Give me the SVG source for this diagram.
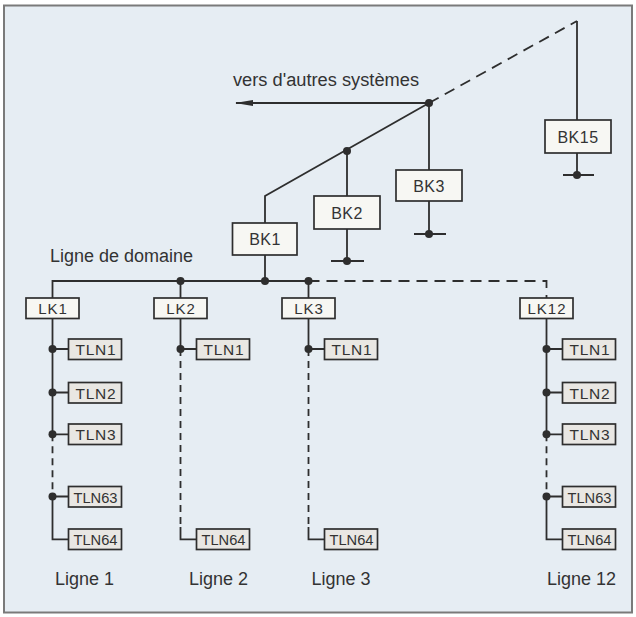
<svg xmlns="http://www.w3.org/2000/svg" width="636" height="617" viewBox="0 0 636 617">
  <style>
    .ln { stroke: #2e2e2e; stroke-width: 1.8; fill: none; }
    .dash { stroke-dasharray: 11 7; }
    .vdash { stroke-dasharray: 7 5; }
    .dot { fill: #2e2e2e; }
    .bk { fill: #f7f7f3; stroke: #2e2e2e; stroke-width: 1.7; }
    .tln { fill: #e9e7e3; stroke: #2e2e2e; stroke-width: 1.7; }
    .lbl { font-family: "Liberation Sans", Arial, sans-serif; fill: #333; text-anchor: middle; }
    .bkt { font-size: 16px; letter-spacing: 0.5px; }
    .lkt { font-size: 15px; letter-spacing: 1px; }
    .tlt { font-size: 15.5px; }
    .cap { font-family: "Liberation Sans", Arial, sans-serif; fill: #333; font-size: 18px; }
  </style>
  <defs>
    <marker id="arr" markerWidth="18" markerHeight="8" refX="17" refY="4" orient="auto" markerUnits="userSpaceOnUse">
      <path d="M0,1 L18,4 L0,7 Z" fill="#2e2e2e"/>
    </marker>
  </defs>
  <rect x="0" y="0" width="636" height="617" fill="#ffffff"/>
  <rect x="4" y="5.5" width="628" height="607" fill="#e6edf3" stroke="#7a7a7a" stroke-width="2"/>

  <g id="connectors">
    <path class="ln" d="M265,223 V196 L429,103"/>
    <path class="ln dash" d="M429,103 L577,21"/>
    <path class="ln" d="M577,21 V120"/>
    <path class="ln" d="M429,103 H236" marker-end="url(#arr)"/>
    <path class="ln" d="M347,151 V196 M347,229 V261 M331,261 H364"/>
    <path class="ln" d="M429,103 V170 M429,201 V234 M414,234 H446"/>
    <path class="ln" d="M577,153 V175 M563,175 H594"/>
    <path class="ln" d="M265,255 V281"/>
    <path class="ln" d="M52.5,298 V281 H308.5"/>
    <path class="ln dash" d="M308.5,281 H546.5 V298"/>
    <path class="ln" d="M180.5,281 V298 M308.5,281 V298"/>
    <path class="ln" d="M52.5,318 V434.3"/>
    <path class="ln vdash" d="M52.5,434.3 V496.5"/>
    <path class="ln" d="M52.5,496.5 V539.3 H68.5 M52.5,349 H68.5 M52.5,392.5 H68.5 M52.5,434.3 H68.5 M52.5,496.5 H68.5"/>
    <path class="ln" d="M180.5,318 V349 H196.5"/>
    <path class="ln vdash" d="M180.5,349 V527"/>
    <path class="ln" d="M180.5,527 V539.3 H196.5"/>
    <path class="ln" d="M308.5,318 V349 H324.5"/>
    <path class="ln vdash" d="M308.5,349 V527"/>
    <path class="ln" d="M308.5,527 V539.3 H324.5"/>
    <path class="ln" d="M546.5,318 V434.3"/>
    <path class="ln vdash" d="M546.5,434.3 V496.5"/>
    <path class="ln" d="M546.5,496.5 V539.3 H562.5 M546.5,349 H562.5 M546.5,392.5 H562.5 M546.5,434.3 H562.5 M546.5,496.5 H562.5"/>
    <circle class="dot" cx="429" cy="103" r="4"/>
    <circle class="dot" cx="347" cy="151" r="4"/>
    <circle class="dot" cx="347" cy="261" r="4"/>
    <circle class="dot" cx="429" cy="234" r="4"/>
    <circle class="dot" cx="577" cy="175" r="4"/>
    <circle class="dot" cx="180.5" cy="281" r="4"/>
    <circle class="dot" cx="265" cy="281" r="4"/>
    <circle class="dot" cx="308.5" cy="281" r="4"/>
    <circle class="dot" cx="52.5" cy="349" r="4"/>
    <circle class="dot" cx="52.5" cy="392.5" r="4"/>
    <circle class="dot" cx="52.5" cy="434.3" r="4"/>
    <circle class="dot" cx="52.5" cy="496.5" r="4"/>
    <circle class="dot" cx="180.5" cy="349" r="4"/>
    <circle class="dot" cx="308.5" cy="349" r="4"/>
    <circle class="dot" cx="546.5" cy="349" r="4"/>
    <circle class="dot" cx="546.5" cy="392.5" r="4"/>
    <circle class="dot" cx="546.5" cy="434.3" r="4"/>
    <circle class="dot" cx="546.5" cy="496.5" r="4"/>
  </g>

  <text class="cap" x="233" y="86" textLength="186" lengthAdjust="spacingAndGlyphs">vers d'autres systèmes</text>
  <text class="cap" x="50" y="262">Ligne de domaine</text>

  <g id="BK1"><rect class="bk" x="232.5" y="223" width="64.5" height="32"/><text class="lbl bkt" x="265" y="245">BK1</text></g>
  <g id="BK2"><rect class="bk" x="314" y="196" width="66" height="33"/><text class="lbl bkt" x="347" y="218.5">BK2</text></g>
  <g id="BK3"><rect class="bk" x="396" y="170" width="66" height="31"/><text class="lbl bkt" x="429" y="191.5">BK3</text></g>
  <g id="BK15"><rect class="bk" x="545" y="120" width="66" height="33"/><text class="lbl bkt" x="578" y="142.5">BK15</text></g>

  <g id="LK1"><rect class="bk" x="26" y="298" width="53" height="20.5"/><text class="lbl lkt" x="53" y="313.5">LK1</text></g>
  <g id="LK2"><rect class="bk" x="154" y="298" width="53" height="20.5"/><text class="lbl lkt" x="181" y="313.5">LK2</text></g>
  <g id="LK3"><rect class="bk" x="282" y="298" width="53" height="20.5"/><text class="lbl lkt" x="309" y="313.5">LK3</text></g>
  <g id="LK12"><rect class="bk" x="520" y="298" width="53" height="20.5"/><text class="lbl lkt" x="547" y="313.5">LK12</text></g>

  <g id="L1-TLN1"><rect class="tln" x="68.5" y="339" width="53" height="20.5"/><text class="lbl tlt" x="95.5" y="355" textLength="40">TLN1</text></g>
  <g id="L1-TLN2"><rect class="tln" x="68.5" y="382.5" width="53" height="20.5"/><text class="lbl tlt" x="95.5" y="398.5" textLength="40">TLN2</text></g>
  <g id="L1-TLN3"><rect class="tln" x="68.5" y="424" width="53" height="20.5"/><text class="lbl tlt" x="95.5" y="440" textLength="40">TLN3</text></g>
  <g id="L1-TLN63"><rect class="tln" x="68.5" y="486.5" width="53" height="20.5"/><text class="lbl tlt" x="95.5" y="502.5" textLength="44" lengthAdjust="spacingAndGlyphs">TLN63</text></g>
  <g id="L1-TLN64"><rect class="tln" x="68.5" y="529" width="53" height="20.5"/><text class="lbl tlt" x="95.5" y="545" textLength="44" lengthAdjust="spacingAndGlyphs">TLN64</text></g>

  <g id="L2-TLN1"><rect class="tln" x="196.5" y="339" width="53" height="20.5"/><text class="lbl tlt" x="223.5" y="355" textLength="40">TLN1</text></g>
  <g id="L2-TLN64"><rect class="tln" x="196.5" y="529" width="53" height="20.5"/><text class="lbl tlt" x="223.5" y="545" textLength="44" lengthAdjust="spacingAndGlyphs">TLN64</text></g>

  <g id="L3-TLN1"><rect class="tln" x="324.5" y="339" width="53" height="20.5"/><text class="lbl tlt" x="351.5" y="355" textLength="40">TLN1</text></g>
  <g id="L3-TLN64"><rect class="tln" x="324.5" y="529" width="53" height="20.5"/><text class="lbl tlt" x="351.5" y="545" textLength="44" lengthAdjust="spacingAndGlyphs">TLN64</text></g>

  <g id="L12-TLN1"><rect class="tln" x="562.5" y="339" width="53" height="20.5"/><text class="lbl tlt" x="589.5" y="355" textLength="40">TLN1</text></g>
  <g id="L12-TLN2"><rect class="tln" x="562.5" y="382.5" width="53" height="20.5"/><text class="lbl tlt" x="589.5" y="398.5" textLength="40">TLN2</text></g>
  <g id="L12-TLN3"><rect class="tln" x="562.5" y="424" width="53" height="20.5"/><text class="lbl tlt" x="589.5" y="440" textLength="40">TLN3</text></g>
  <g id="L12-TLN63"><rect class="tln" x="562.5" y="486.5" width="53" height="20.5"/><text class="lbl tlt" x="589.5" y="502.5" textLength="44" lengthAdjust="spacingAndGlyphs">TLN63</text></g>
  <g id="L12-TLN64"><rect class="tln" x="562.5" y="529" width="53" height="20.5"/><text class="lbl tlt" x="589.5" y="545" textLength="44" lengthAdjust="spacingAndGlyphs">TLN64</text></g>

  <text class="cap" x="55" y="584.5">Ligne 1</text>
  <text class="cap" x="189" y="584.5">Ligne 2</text>
  <text class="cap" x="311.5" y="584.5">Ligne 3</text>
  <text class="cap" x="547" y="584.5">Ligne 12</text>
</svg>
